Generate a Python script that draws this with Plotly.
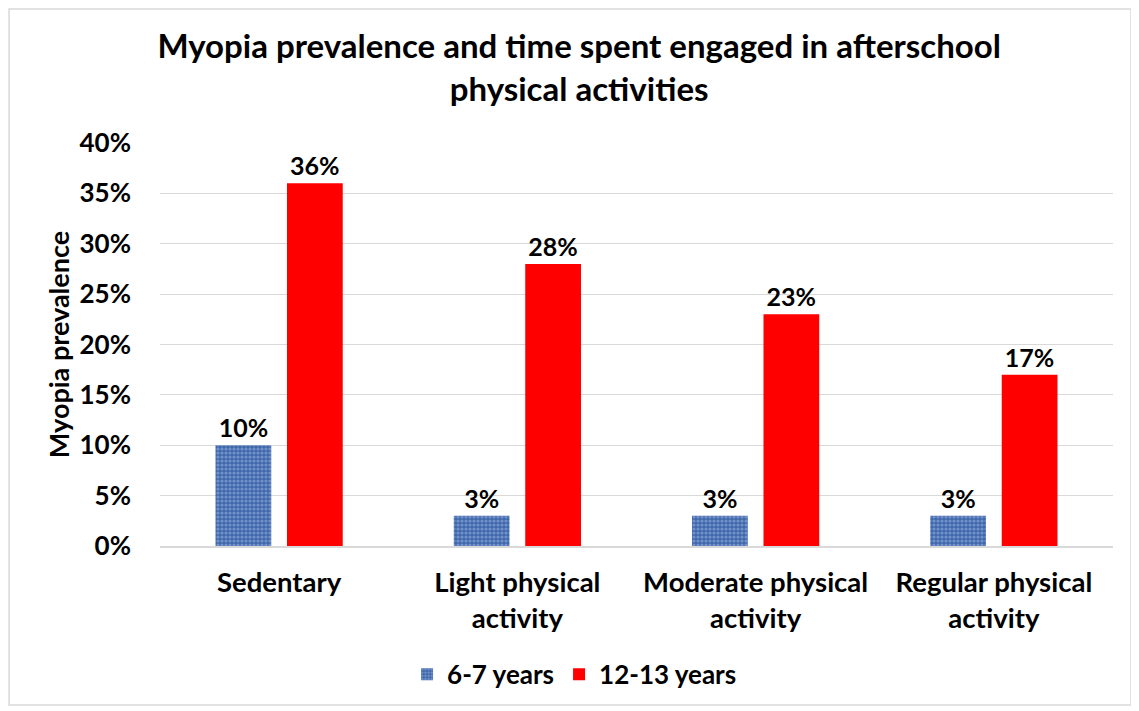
import plotly.graph_objects as go

categories = ["Sedentary", "Light physical<br>activity", "Moderate physical<br>activity", "Regular physical<br>activity"]
young = [0.10, 0.03, 0.03, 0.03]
old = [0.36, 0.28, 0.23, 0.17]
young_labels = ["10%", "3%", "3%", "3%"]
old_labels = ["36%", "28%", "23%", "17%"]
yticks = [0, 0.05, 0.10, 0.15, 0.20, 0.25, 0.30, 0.35, 0.40]
yticktext = ["0%", "5%", "10%", "15%", "20%", "25%", "30%", "35%", "40%"]

FONT = "Lato"
fig = go.Figure()
fig.add_trace(go.Bar(
    x=categories, y=young, name="<b>6-7 years</b>",
    text=young_labels, textposition="outside",
    textfont=dict(family=FONT, size=25, color="#000000"),
    marker=dict(color="#3f66aa", line=dict(width=0),
                pattern=dict(shape=".", fgcolor="#a3c0e8", size=4, solidity=0.5)),
    cliponaxis=False,
))
fig.add_trace(go.Bar(
    x=categories, y=old, name="<b>12-13 years</b>",
    text=old_labels, textposition="outside",
    textfont=dict(family=FONT, size=25, color="#000000"),
    marker=dict(color="#ff0000", line=dict(width=0)),
    cliponaxis=False,
))

fig.update_layout(
    width=1131, height=703,
    paper_bgcolor="white", plot_bgcolor="white",
    margin=dict(l=152, r=26, t=135, b=165, autoexpand=False),
    barmode="group", bargap=0.40, bargroupgap=0.22,
    font=dict(family=FONT, size=26, color="#000000"),
    title=dict(text="<b>Myopia prevalence and time spent engaged in afterschool<br>physical activities</b>",
               x=0.505, xanchor="center", y=0.929, yanchor="top",
               font=dict(family=FONT, size=33, color="#000000")),
    legend=dict(orientation="h", x=0.435, xanchor="center", y=-0.26, yanchor="top",
                font=dict(family=FONT, size=26, color="#000000"),
                itemwidth=30, traceorder="normal"),
)
fig.update_yaxes(range=[0, 0.40], tickvals=yticks, ticktext=["<b>%s</b>" % t for t in yticktext],
                 showgrid=True, gridcolor="#d9d9d9", gridwidth=1.3, zeroline=False,
                 ticks="", ticklabelstandoff=28, automargin=False,
                 title=dict(text="<b>Myopia prevalence</b>", font=dict(family=FONT, size=27), standoff=2),
                 tickfont=dict(family=FONT, size=26))
fig.update_xaxes(tickvals=categories, ticktext=["<b>%s</b>" % c for c in categories],
                 showline=True, linecolor="#d9d9d9", linewidth=1.5, ticks="",
                 ticklabelstandoff=11, automargin=False,
                 tickfont=dict(family=FONT, size=27.5))
for tr in fig.data:
    tr.texttemplate = "<b>%{text}</b>"

fig.add_shape(type="rect", xref="paper", yref="paper",
              x0=-0.1584, x1=1.0189, y0=-0.3945, y1=1.3325,
              line=dict(color="#d9d9d9", width=1.5), fillcolor="rgba(0,0,0,0)", layer="below")

fig.write_html("out.html")
